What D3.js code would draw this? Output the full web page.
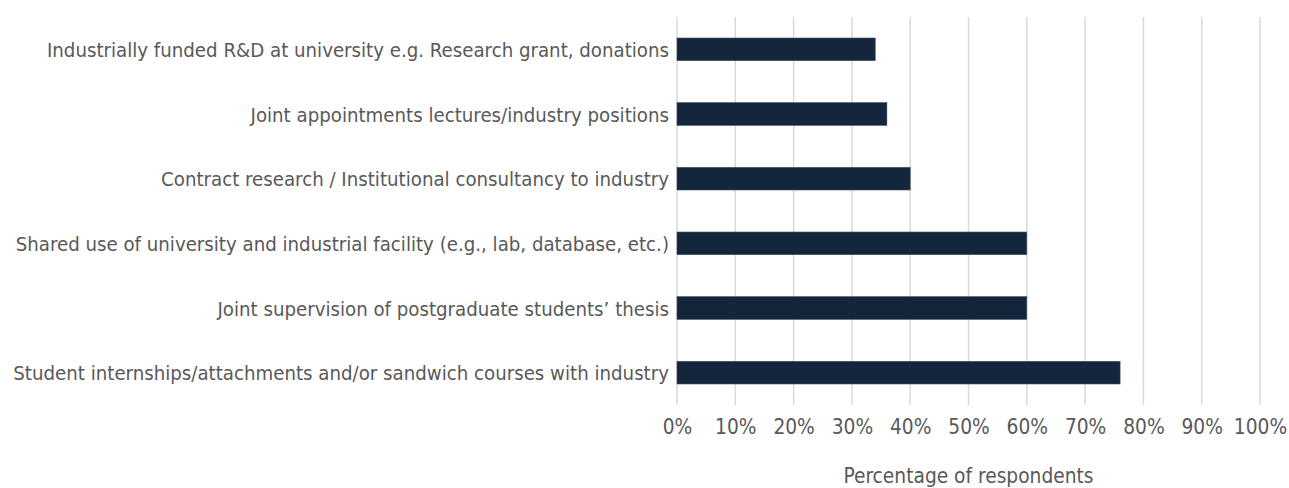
<!DOCTYPE html>
<html lang='en'>
<head>
    <meta charset='UTF-8'>
    <title>Collaboration types</title>
    <style>
        body {
            margin: 0;
            background: #fff;
        }

        svg text {
            font-family: 'DejaVu Sans Condensed', Tahoma, 'DejaVu Sans', sans-serif;
            fill: #595959;
        }

        .grid line {
            stroke: #d9d9d9;
            stroke-width: 1.5px;
        }
    </style>
</head>
<body>
    <div id="chart"></div>
    <script src='https://d3js.org/d3.v7.min.js'></script>
    <script>
        // data, top to bottom as in the picture
        const categories = [
            'Industrially funded R&D at university e.g. Research grant, donations',
            'Joint appointments lectures/industry positions',
            'Contract research / Institutional consultancy to industry',
            'Shared use of university and industrial facility (e.g., lab, database, etc.)',
            'Joint supervision of postgraduate students\u2019 thesis',
            'Student internships/attachments and/or sandwich courses with industry'
        ]
        const values = [0.34, 0.36, 0.40, 0.60, 0.60, 0.76]
        const tickValues = [0, 0.1, 0.2, 0.3, 0.4, 0.5, 0.6, 0.7, 0.8, 0.9, 1]
        const axisTitle = 'Percentage of respondents'

        const width = 1289
        const height = 488
        const plot = { left: 677, right: 1260, top: 17, bottom: 405 }
        const labelWidth = 656 // width the longest category label takes up

        const svg = d3.select('#chart')
            .append('svg')
            .attr('width', width)
            .attr('height', height)

        const x = d3.scaleLinear()
            .domain([0, 1])
            .range([plot.left, plot.right])

        const y = d3.scaleBand()
            .domain(categories)
            .range([plot.top, plot.bottom])
            .paddingInner(0.65)
            .paddingOuter(0.325)

        // pick a font size so the longest label spans like in the picture
        const probe = svg.append('text').attr('font-size', 20)
        let longest = 0
        categories.forEach(c => {
            probe.text(c)
            longest = Math.max(longest, probe.node().getComputedTextLength())
        })
        probe.remove()
        const fontSize = Math.min(23, 20 * labelWidth / longest)

        // vertical grid lines
        svg.append('g')
            .attr('class', 'grid')
            .selectAll('line')
            .data(tickValues)
            .join('line')
            .attr('x1', d => x(d))
            .attr('x2', d => x(d))
            .attr('y1', plot.top)
            .attr('y2', plot.bottom)

        // bars
        svg.append('g')
            .selectAll('rect')
            .data(values)
            .join('rect')
            .attr('x', x(0))
            .attr('y', (_, i) => y(categories[i]))
            .attr('width', d => x(d) - x(0))
            .attr('height', y.bandwidth())
            .attr('fill', '#13263c')
            .attr('stroke', '#3a4a5e')
            .attr('stroke-width', 0.6)

        // category labels
        svg.append('g')
            .selectAll('text')
            .data(categories)
            .join('text')
            .attr('x', plot.left - 8)
            .attr('y', d => y(d) + y.bandwidth() / 2)
            .attr('dy', '0.38em')
            .attr('text-anchor', 'end')
            .attr('font-size', fontSize)
            .text(d => d)

        // x axis tick labels
        const xAxis = d3.axisBottom(x)
            .tickValues(tickValues)
            .tickFormat(d3.format('.0%'))
            .tickSize(0)
            .tickPadding(0)

        const axisG = svg.append('g')
            .attr('transform', `translate(0, ${plot.bottom})`)
            .call(xAxis)
        axisG.select('.domain').remove()
        axisG.selectAll('text')
            .attr('font-size', fontSize + 0.5)
            .attr('font-family', null)
            .attr('fill', null)
            .attr('dy', null)
            .attr('y', 29)

        // axis title, sitting at the bottom edge as in the picture
        svg.append('text')
            .attr('x', (plot.left + plot.right) / 2)
            .attr('y', 483)
            .attr('text-anchor', 'middle')
            .attr('font-size', fontSize + 0.5)
            .text(axisTitle)
    </script>
</body>
</html>
